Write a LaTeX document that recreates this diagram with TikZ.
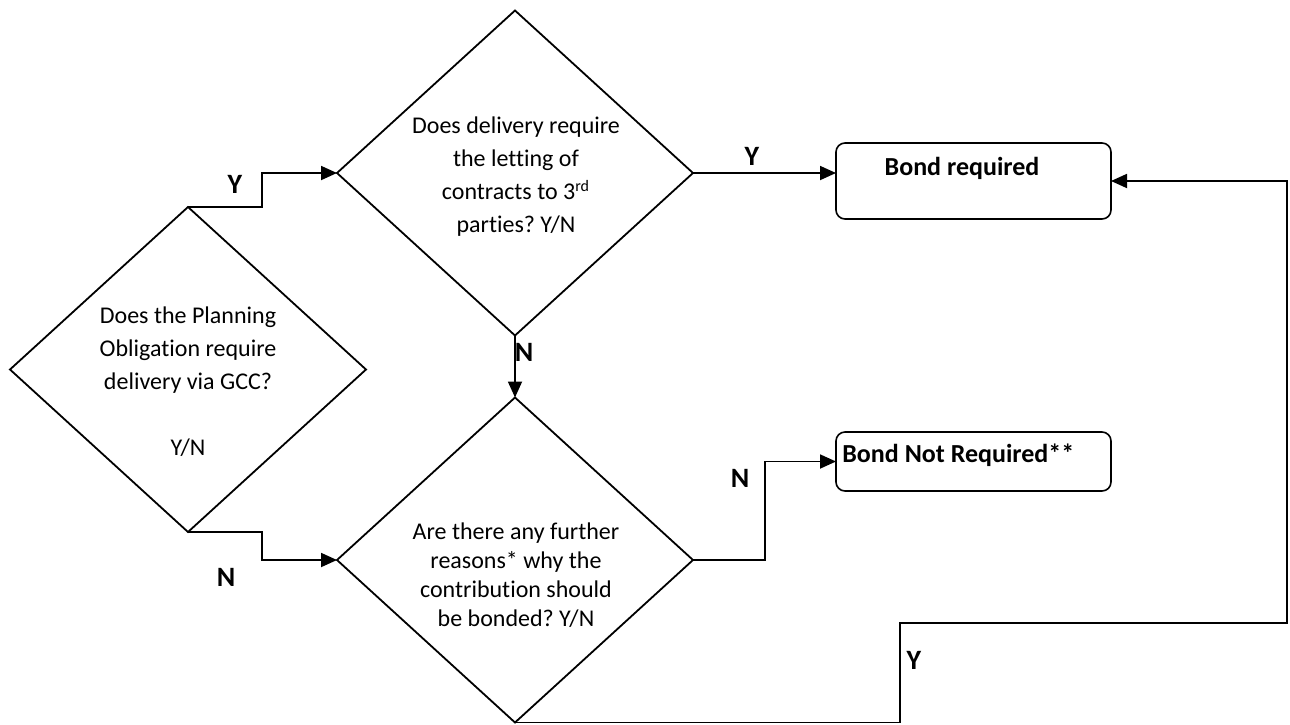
\documentclass[tikz,border=0pt]{standalone}
\usepackage{fontspec}
\setmainfont[Ligatures={NoCommon}]{Carlito}
\usetikzlibrary{shapes.geometric,arrows.meta,calc}
\frenchspacing
\tikzset{
  dia/.style={draw, shape=diamond, line width=0.9pt, inner sep=0pt, outer sep=0pt,
              minimum width=178pt, minimum height=162.5pt},
  rbox/.style={draw, rounded corners=4.5pt, line width=0.8pt, inner sep=0pt, outer sep=0pt,
               minimum width=137.5pt},
  qtext/.style={align=center, inner sep=0pt, font=\fontsize{12pt}{16.5pt}\selectfont},
  btext/.style={inner sep=0pt, font=\fontsize{13pt}{15pt}\selectfont\bfseries},
  lab/.style={inner sep=0pt, font=\fontsize{14pt}{16pt}\selectfont\bfseries},
  arr/.style={line width=0.9pt, -{Triangle[length=8pt,width=7pt]}}
}
\begin{document}
\begin{tikzpicture}[x=0.5pt, y=-0.5pt]
\useasboundingbox (0,0) rectangle (1290,724);
% diamonds
\node[dia] (d1) at (188,369.5) {};
\node[dia] (d2) at (515,173) {};
\node[dia] (d3) at (515,560) {};
% diamond texts
\node[qtext] (t1) at (188,382) {Does the Planning\\Obligation require\\delivery via GCC?\\\mbox{}\\Y/N};
\node[qtext] (t2) at (516,177) {Does delivery require\\the letting of\\contracts to 3\textsuperscript{rd}\\parties? Y/N};
\node[qtext, font=\fontsize{12pt}{14.5pt}\selectfont] (t3) at (516,575) {Are there any further\\reasons* why the\\contribution should\\be bonded? Y/N};
% boxes
\node[rbox, minimum height=38pt] (b1) at (973.5,181) {};
\node[rbox, minimum height=29.5pt] (b2) at (973.5,461.5) {};
\node[btext] (bt1) at (962,168) {Bond required};
\node[btext, anchor=west] (bt2) at (842,455) {Bond Not Required**};
% connectors
\draw[arr] (d1.north) -- ++(74,0) |- (d2.west);
\draw[arr] (d1.south) -- ++(74,0) |- (d3.west);
\draw[arr] (d2.east) -- (d2.east -| b1.west);
\draw[arr] (d2.south) -- (d3.north);
\draw[arr] (d3.east) -- ++(72,0) |- (b2.west);
\coordinate (c2) at (900,623);
\coordinate (c3) at (1287,623);
\draw[arr] (d3.south) -| (c2) -- (c3) |- (b1.east);
% labels
\node[lab] (ly1) at (235,184) {Y};
\node[lab] (ln1) at (226,577) {N};
\node[lab] (ly2) at (752,156) {Y};
\node[lab] (ln2) at (524,352) {N};
\node[lab] (ln3) at (740,478) {N};
\node[lab] (ly3) at (914,660) {Y};
\end{tikzpicture}
\end{document}
